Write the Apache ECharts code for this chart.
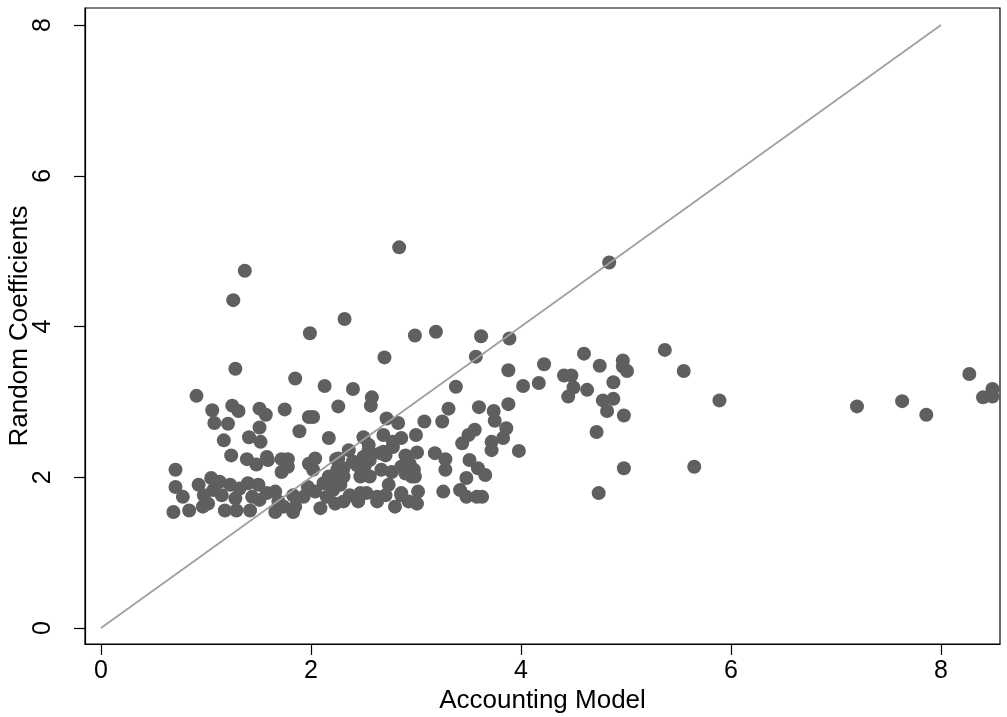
<!DOCTYPE html>
<html>
<head>
<meta charset="utf-8">
<script src="https://cdn.jsdelivr.net/npm/echarts@6/dist/echarts.min.js"></script>
<style>
html,body{margin:0;padding:0;background:#fff;}
#chart{width:1007px;height:717px;}
</style>
</head>
<body>
<div id="chart"></div>
<script>
const xTickValues = [0, 2, 4, 6, 8];
const yTickValues = [0, 2, 4, 6, 8];
const xTitle = 'Accounting Model';
const yTitle = 'Random Coefficients';

const accountingModel = [
2.84,1.37,1.26,2.32,1.99,2.99,3.19,3.62,2.70,3.57,
3.89,4.84,3.88,4.22,4.60,5.37,5.55,3.38,4.02,4.17,
4.41,4.48,4.75,4.97,4.97,5.01,4.50,4.45,4.63,4.88,
4.78,4.88,4.82,4.98,4.72,3.31,3.25,3.08,3.60,3.74,
3.75,3.88,3.86,2.83,2.72,3.00,3.83,3.98,4.98,5.65,
4.74,5.89,7.20,7.63,7.86,8.27,8.49,8.40,8.49,1.28,
0.91,1.85,2.13,2.40,2.58,2.57,1.06,1.25,1.31,1.51,
1.57,1.75,1.98,2.02,2.26,1.08,1.21,1.51,1.89,2.17,
2.50,1.17,1.41,1.52,1.24,1.39,1.48,1.58,1.59,1.72,
1.78,1.72,1.78,1.98,2.04,2.02,2.24,0.71,0.71,0.78,
0.69,0.84,0.93,0.98,1.05,1.07,1.13,1.15,1.23,1.28,
1.32,1.40,1.44,1.50,1.51,1.58,1.66,1.69,1.74,1.83,
1.85,1.93,1.97,2.04,2.09,2.15,2.21,2.23,0.97,1.02,
1.18,1.29,1.42,1.66,1.83,2.69,2.78,2.86,2.55,2.56,
2.36,2.26,2.71,2.78,2.90,2.94,2.98,2.99,3.01,3.18,
3.28,3.44,3.50,3.56,3.72,3.72,3.51,3.28,3.59,3.66,
3.48,3.26,3.42,3.48,3.58,3.63,3.02,3.01,2.40,2.44,
2.47,2.56,2.67,2.77,2.86,2.90,2.96,2.74,2.71,2.25,
2.31,2.28,2.37,2.47,2.53,2.63,2.31,2.45,2.63,2.80,
2.86,2.93,2.21,2.23,2.69,2.31,2.50,2.51,2.55,2.66,
2.17,2.12,2.86
];
const randomCoefficients = [
5.05,4.74,4.35,4.10,3.91,3.88,3.93,3.87,3.59,3.60,
3.84,4.85,3.42,3.50,3.64,3.69,3.41,3.20,3.21,3.25,
3.35,3.35,3.48,3.55,3.47,3.41,3.19,3.07,3.16,3.26,
3.02,3.04,2.88,2.82,2.60,2.91,2.74,2.74,2.93,2.88,
2.75,2.97,2.65,2.72,2.78,2.56,2.52,2.35,2.12,2.14,
1.79,3.02,2.94,3.01,2.83,3.37,3.17,3.06,3.07,3.44,
3.08,3.31,3.21,3.17,3.06,2.95,2.89,2.95,2.88,2.91,
2.83,2.90,2.80,2.80,2.94,2.72,2.71,2.66,2.61,2.52,
2.53,2.49,2.53,2.47,2.29,2.24,2.17,2.27,2.23,2.24,
2.24,2.07,2.14,2.18,2.25,2.10,2.24,2.10,1.87,1.74,
1.54,1.56,1.90,1.76,1.99,1.83,1.94,1.76,1.90,1.72,
1.85,1.92,1.74,1.90,1.70,1.79,1.81,1.68,1.61,1.76,
1.61,1.74,1.87,1.81,1.59,1.74,1.87,1.65,1.61,1.65,
1.56,1.56,1.56,1.54,1.54,2.56,2.47,2.52,2.36,2.23,
2.36,2.25,2.29,2.40,2.29,2.18,2.10,2.01,2.33,2.32,
2.24,2.45,2.56,2.63,2.47,2.36,2.23,2.10,2.12,2.03,
1.99,1.81,1.83,1.74,1.74,1.74,1.81,1.65,2.21,2.16,
2.01,2.01,2.10,2.07,2.14,2.05,2.01,1.90,1.76,2.10,
2.01,1.90,1.76,1.79,1.79,1.74,1.68,1.68,1.68,1.61,
1.76,1.68,1.83,1.96,2.34,2.12,2.27,2.14,2.43,2.32,
2.01,1.92,1.79
];
const refLineX = [0, 8];
const refLineY = [0, 8];

const points = accountingModel.map((v, i) => [v, randomCoefficients[i]]);
const refLine = refLineX.map((v, i) => [v, refLineY[i]]);

const font = 'Liberation Sans, Arial, sans-serif';
const chart = echarts.init(document.getElementById('chart'), null, {renderer: 'canvas'});
chart.setOption({
  animation: false,
  backgroundColor: '#ffffff',
  grid: {
    left: 85, right: 7, top: 8, bottom: 73,
    containLabel: false,
    outerBoundsMode: 'none',
    show: true, borderColor: '#000', borderWidth: 1.2, backgroundColor: 'transparent'
  },
  xAxis: {
    type: 'value',
    min: -0.152, max: 8.562,
    name: xTitle, nameLocation: 'middle', nameGap: 44, nameMoveOverlap: false,
    nameTextStyle: {fontFamily: font, fontSize: 26, color: '#000'},
    axisLine: {show: true, onZero: false, lineStyle: {color: '#000', width: 1.2}},
    axisTick: {show: true, length: 11, inside: false, customValues: xTickValues, lineStyle: {color: '#000', width: 1.2}},
    axisLabel: {show: true, margin: 15, customValues: xTickValues, fontFamily: font, fontSize: 25, color: '#000'},
    splitLine: {show: false}
  },
  yAxis: {
    type: 'value',
    min: -0.212, max: 8.2255,
    name: yTitle, nameLocation: 'middle', nameGap: 52, nameMoveOverlap: false,
    nameTextStyle: {fontFamily: font, fontSize: 26, color: '#000'},
    axisLine: {show: true, onZero: false, lineStyle: {color: '#000', width: 1.2}},
    axisTick: {show: true, length: 11, inside: false, customValues: yTickValues, lineStyle: {color: '#000', width: 1.2}},
    axisLabel: {show: true, margin: 29, rotate: 90, customValues: yTickValues, fontFamily: font, fontSize: 25, color: '#000'},
    splitLine: {show: false}
  },
  series: [
    {
      type: 'scatter',
      data: points,
      symbol: 'circle',
      symbolSize: 14,
      itemStyle: {color: '#5f5f5f', opacity: 1},
      z: 2
    },
    {
      type: 'line',
      data: refLine,
      symbol: 'none',
      lineStyle: {color: '#a0a0a0', width: 1.8},
      z: 3
    }
  ]
});
</script>
</body>
</html>
